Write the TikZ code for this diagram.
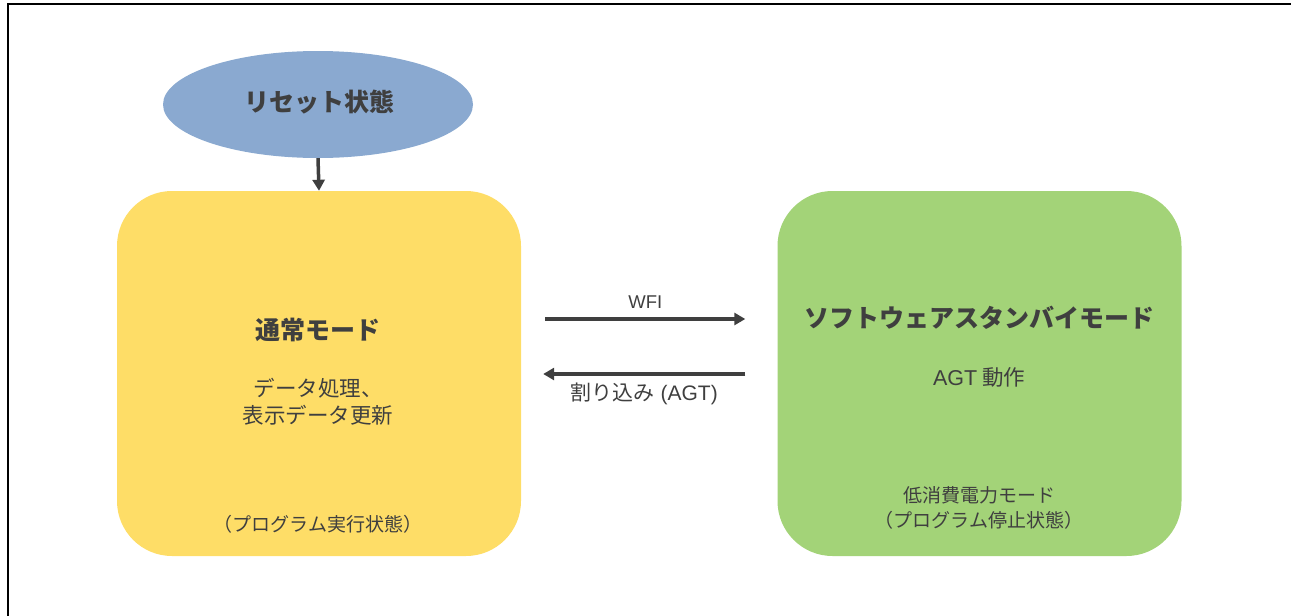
\documentclass[tikz,border=0pt]{standalone}
\usepackage{fontspec}
\setmainfont{Noto Sans CJK JP}
\newfontfamily\lat{Liberation Sans}
\usetikzlibrary{arrows.meta,shapes.geometric}
\definecolor{txt}{HTML}{3F3F3F}
\definecolor{blu}{HTML}{8AA9D0}
\definecolor{yel}{HTML}{FEDD67}
\definecolor{grn}{HTML}{A3D378}
\begin{document}
\begin{tikzpicture}[x=1pt,y=-1pt,
  box/.style={rectangle,rounded corners=55pt,minimum width=404pt,minimum height=365pt,draw=none,inner sep=0pt},
  ttl/.style={text=txt,font=\fontsize{25}{29}\selectfont\bfseries},
  lbl/.style={text=txt,font=\fontsize{19}{25}\selectfont,align=center},
  mid/.style={text=txt,font=\fontsize{21.5}{27}\selectfont,align=center},
  arr/.style={draw=txt,line width=3.5pt,-{Triangle[length=11pt,width=12pt]}}]
\useasboundingbox (0,0) rectangle (1291,616);
\draw[line width=2.5pt,black] (8,616) -- (8,4) -- (1291,4);
\node[ellipse,fill=blu,minimum width=310pt,minimum height=107pt,inner sep=0pt] (reset) at (318,104.5) {};
\node[ttl] (resett) at (319,102) {リセット状態};
\node[box,fill=yel] (normal) at (319,373.5) {};
\node[box,fill=grn] (standby) at (979.5,373.5) {};
\node[ttl] (nt) at (318,330) {通常モード};
\node[mid] (nd) at (318,401.5) {データ処理、\\表示データ更新};
\node[lbl] (ns) at (318,524) {（プログラム実行状態）};
\node[ttl] (st) at (979,318) {ソフトウェアスタンバイモード};
\node[mid] (sa) at (979,377) {{\lat AGT} 動作};
\node[lbl] (ss) at (979,508) {低消費電力モード\\（プログラム停止状態）};
\draw[arr] (reset.south) -- (normal.north);
\draw[arr] ([shift={(24,-54.5)}]normal.east) -- node[above=5pt,text=txt,font=\fontsize{18.5}{20}\selectfont\lat] (wfi) {WFI} ([shift={(-32,-54.5)}]standby.west);
\draw[arr] ([shift={(-32,0.5)}]standby.west) -- node[below=4pt,text=txt,font=\fontsize{21}{22}\selectfont] (irq) {割り込み{\lat{} (AGT)}} ([shift={(22,0.5)}]normal.east);
\end{tikzpicture}
\end{document}
